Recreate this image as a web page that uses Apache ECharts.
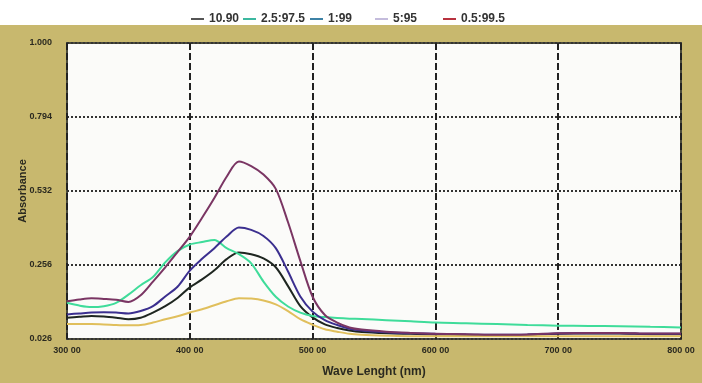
<!DOCTYPE html>
<html>
<head>
<meta charset="utf-8">
<script src="https://cdn.jsdelivr.net/npm/echarts@6/dist/echarts.min.js"></script>
<style>
  html, body { margin: 0; padding: 0; background: #fff; }
  #main { width: 702px; height: 383px; }
</style>
</head>
<body>
<div id="main"></div>
<script>
// wavelengths (nm) and absorbance
var wavelengths = [300,310,320,330,340,350,360,370,380,390,400,410,420,430,440,450,460,470,480,490,500,510,520,530,540,560,580,600,625,650,675,700,725,750,775,800];

var s1090   = [0.096,0.099,0.102,0.100,0.096,0.091,0.096,0.113,0.134,0.161,0.196,0.222,0.252,0.289,0.311,0.305,0.291,0.262,0.200,0.134,0.097,0.074,0.062,0.054,0.049,0.045,0.043,0.041,0.040,0.039,0.040,0.043,0.044,0.044,0.042,0.042];
var s25975  = [0.145,0.136,0.131,0.134,0.145,0.172,0.203,0.230,0.278,0.315,0.337,0.345,0.352,0.325,0.305,0.275,0.215,0.165,0.133,0.113,0.102,0.098,0.095,0.093,0.092,0.088,0.084,0.080,0.078,0.075,0.072,0.070,0.069,0.068,0.066,0.064];
var s199    = [0.107,0.110,0.113,0.114,0.113,0.110,0.118,0.134,0.166,0.198,0.251,0.290,0.325,0.363,0.393,0.385,0.365,0.325,0.248,0.166,0.116,0.088,0.072,0.060,0.054,0.048,0.045,0.043,0.041,0.040,0.041,0.044,0.045,0.045,0.043,0.043];
var s595    = [0.075,0.075,0.075,0.074,0.072,0.071,0.072,0.080,0.091,0.101,0.113,0.124,0.137,0.150,0.160,0.159,0.153,0.140,0.118,0.091,0.073,0.058,0.050,0.043,0.040,0.037,0.035,0.035,0.035,0.035,0.035,0.035,0.035,0.035,0.035,0.035];
var s05995  = [0.150,0.156,0.160,0.158,0.155,0.148,0.170,0.215,0.262,0.312,0.363,0.425,0.490,0.560,0.610,0.595,0.567,0.520,0.410,0.283,0.165,0.105,0.080,0.064,0.057,0.050,0.046,0.043,0.042,0.040,0.041,0.045,0.046,0.046,0.044,0.044];

var seriesNames = ['10.90','2.5:97.5','1:99','5:95','0.5:99.5'];
var yTickLabels = ['0.026','0.256','0.532','0.794','1.000'];
var xTickLabels = ['300 00','400 00','500 00','600 00','700 00','800 00'];

var lineColors   = ['#1e2620','#3fdc9a','#3b2f8f','#e0bf5c','#7a3563'];
var legendColors = ['#555555','#3cb8a0','#3d82a6','#c4bcdc','#b8323f'];
var legendLeft   = [186, 238, 305, 370, 438];

function pairs(ys) {
  return wavelengths.map(function (x, i) { return [x, ys[i]]; });
}
var allSeries = [s1090, s25975, s199, s595, s05995];

var myChart = echarts.init(document.getElementById('main'));

var option = {
  backgroundColor: '#c8b86e',
  animation: false,
  graphic: [{
    type: 'rect', left: 0, top: 0, z: -1,
    shape: { width: 702, height: 25 },
    style: { fill: '#ffffff' }
  }],
  legend: seriesNames.map(function (n, i) {
    return {
      left: legendLeft[i], top: 8,
      icon: 'rect', itemWidth: 13, itemHeight: 2, itemGap: 0,
      textStyle: { fontFamily: 'Liberation Sans, Arial', fontWeight: 'bold', fontSize: 12, color: '#333' },
      data: [{ name: n, itemStyle: { color: legendColors[i] } }]
    };
  }),
  grid: {
    left: 67, right: 21, top: 43, bottom: 36,
    show: true,
    backgroundColor: '#fbfbf9',
    borderColor: '#4a4a3a',
    borderWidth: 2
  },
  xAxis: {
    type: 'value',
    min: 300, max: 800, interval: 100,
    name: 'Wave Lenght (nm)',
    nameLocation: 'middle',
    nameGap: 27,
    nameTextStyle: { fontFamily: 'Liberation Sans, Arial', fontWeight: 'bold', fontSize: 12, color: '#2b2a20' },
    axisLine: { show: false },
    axisTick: { show: false },
    axisLabel: {
      margin: 7,
      fontFamily: 'Liberation Sans, Arial', fontWeight: 'bold', fontSize: 9, color: '#2b2a20',
      formatter: function (v) { return xTickLabels[Math.round((v - 300) / 100)]; }
    },
    splitLine: { show: true, lineStyle: { color: '#222', width: 2, type: [7, 3] } }
  },
  yAxis: {
    type: 'value',
    min: 0.026, max: 1.0, interval: 0.2435,
    name: 'Absorbance',
    nameLocation: 'middle',
    nameGap: 39,
    nameMoveOverlap: false,
    nameTextStyle: { fontFamily: 'Liberation Sans, Arial', fontWeight: 'bold', fontSize: 11, color: '#2b2a20' },
    axisLine: { show: false },
    axisTick: { show: false },
    axisLabel: {
      margin: 15,
      fontFamily: 'Liberation Sans, Arial', fontWeight: 'bold', fontSize: 9, color: '#2b2a20',
      formatter: function (v) { return yTickLabels[Math.round((v - 0.026) / 0.2435)]; }
    },
    splitLine: { show: true, lineStyle: { color: '#333', width: 2, type: [2, 2] } }
  },
  series: seriesNames.map(function (n, i) {
    return {
      name: n,
      type: 'line',
      smooth: 0.3,
      symbol: 'none',
      data: pairs(allSeries[i]),
      lineStyle: { color: lineColors[i], width: 2 },
      itemStyle: { color: lineColors[i] }
    };
  })
};

myChart.setOption(option);

window.addEventListener('resize', function () {
  myChart.resize();
});
</script>
</body>
</html>
